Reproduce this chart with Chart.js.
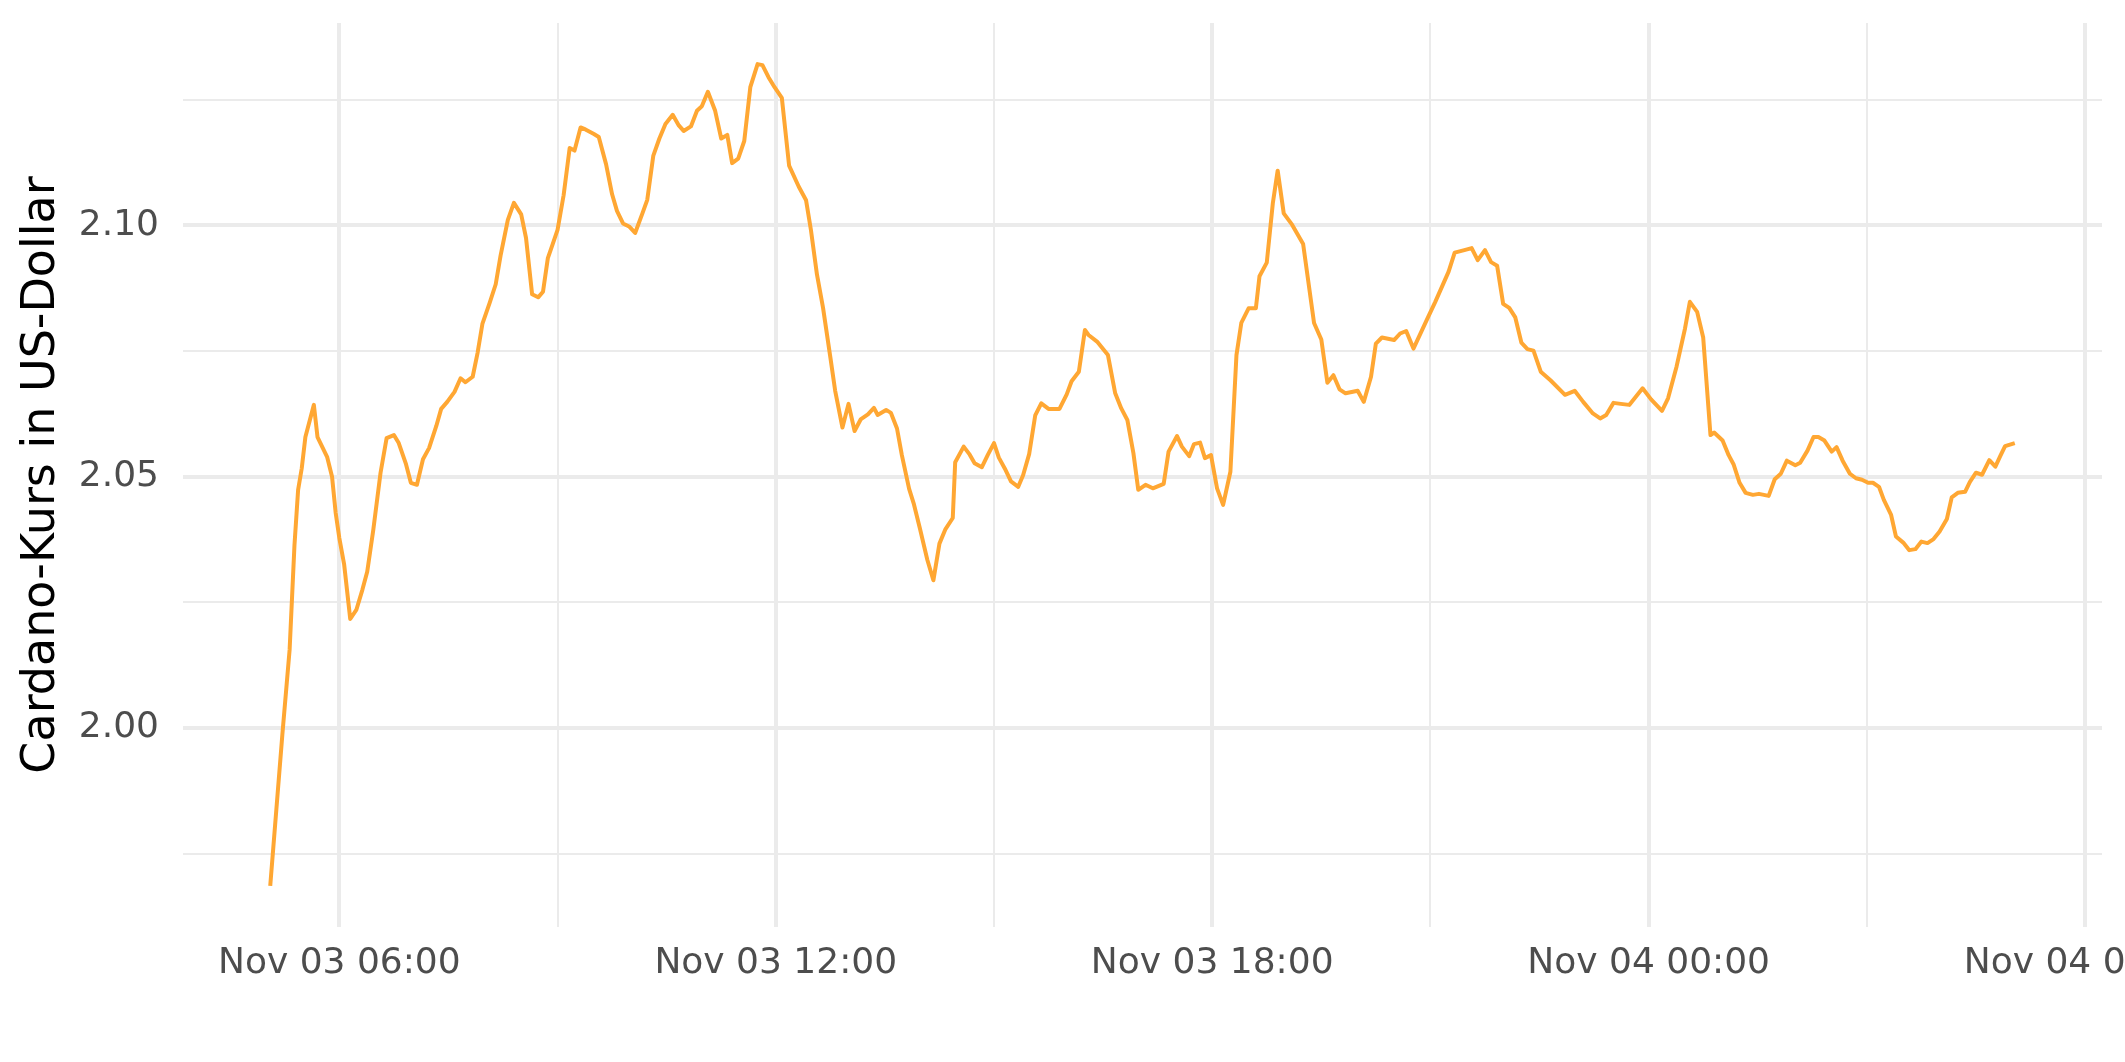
<!DOCTYPE html>
<html>
<head>
<meta charset="utf-8">
<title>Cardano-Kurs</title>
<script src="https://cdn.jsdelivr.net/npm/chart.js@4.4.1/dist/chart.umd.min.js"></script>
<style>
    html, body { margin: 0; padding: 0; background: #ffffff; }
    #wrap { width: 2125px; height: 1062px; }
</style>
</head>
<body>
<div id="wrap"><canvas id="priceChart" width="2125" height="1062"></canvas></div>
<script>
// ============================================================
// Data
// ============================================================

// minutes after Nov 03 00:00
const MINUTES = [
    303, 313, 319, 323, 326, 329, 332, 339, 342, 346,
    350, 354, 357, 360, 364, 369, 374, 379, 383, 388,
    394, 399, 405, 409, 415, 419, 424, 429, 434, 440,
    444, 449, 455, 460, 464, 470, 474, 478, 484, 489,
    493, 499, 504, 510, 514, 519, 524, 528, 532, 536,
    540, 545, 550, 554, 559, 563, 570, 574, 580, 585,
    589, 594, 599, 604, 610, 614, 619, 624, 629, 635,
    640, 644, 650, 655, 659, 664, 670, 675, 680, 684,
    689, 694, 699, 705, 709, 714, 719, 725, 731, 739,
    745, 749, 754, 759, 765, 769, 775, 780, 785, 790,
    796, 801, 804, 811, 815, 820, 824, 830, 834, 839,
    845, 850, 855, 860, 866, 868, 875, 880, 884, 890,
    895, 900, 904, 909, 914, 920, 924, 929, 934, 939,
    945, 954, 960, 964, 970, 975, 978, 985, 994, 1000,
    1005, 1010, 1015, 1019, 1025, 1031, 1040, 1044, 1051, 1055,
    1061, 1065, 1070, 1074, 1079, 1084, 1089, 1095, 1100, 1104,
    1110, 1116, 1119, 1125, 1130, 1134, 1139, 1146, 1155, 1164,
    1170, 1175, 1180, 1185, 1190, 1200, 1205, 1211, 1215, 1220,
    1230, 1235, 1240, 1246, 1257, 1264, 1275, 1280, 1288, 1294,
    1299, 1305, 1310, 1315, 1320, 1325, 1330, 1335, 1340, 1345,
    1351, 1359, 1371, 1379, 1386, 1394, 1400, 1405, 1411, 1417,
    1424, 1435, 1442, 1451, 1456, 1463, 1470, 1474, 1480, 1485,
    1491, 1494, 1501, 1506, 1510, 1515, 1520, 1526, 1531, 1539,
    1544, 1549, 1554, 1561, 1565, 1571, 1576, 1580, 1585, 1591,
    1595, 1600, 1606, 1611, 1616, 1621, 1625, 1630, 1634, 1640,
    1644, 1650, 1655, 1660, 1665, 1670, 1675, 1680, 1686, 1690,
    1695, 1701, 1705, 1710, 1715, 1721, 1726, 1730, 1734, 1742
];

// price in US-Dollar
const PRICES = [
    1.9686, 1.9987, 2.0156, 2.0364, 2.0474, 2.0517, 2.0579, 2.0643, 2.0579, 2.0559,
    2.0539, 2.0500, 2.0428, 2.0378, 2.0325, 2.0217, 2.0235, 2.0275, 2.0311, 2.0394,
    2.0508, 2.0577, 2.0583, 2.0567, 2.0525, 2.0488, 2.0484, 2.0535, 2.0557, 2.0601,
    2.0635, 2.0649, 2.0669, 2.0696, 2.0688, 2.0699, 2.0746, 2.0804, 2.0846, 2.0883,
    2.0940, 2.1011, 2.1045, 2.1022, 2.0975, 2.0863, 2.0857, 2.0868, 2.0935, 2.0963,
    2.0991, 2.1060, 2.1154, 2.1149, 2.1195, 2.1191, 2.1182, 2.1176, 2.1122, 2.1062,
    2.1029, 2.1004, 2.0998, 2.0985, 2.1024, 2.1051, 2.1139, 2.1173, 2.1202, 2.1220,
    2.1199, 2.1188, 2.1197, 2.1228, 2.1237, 2.1266, 2.1228, 2.1173, 2.1180, 2.1124,
    2.1133, 2.1168, 2.1275, 2.1321, 2.1319, 2.1295, 2.1275, 2.1254, 2.1119, 2.1077,
    2.1050, 2.0991, 2.0902, 2.0836, 2.0738, 2.0671, 2.0598, 2.0645, 2.0591, 2.0614,
    2.0624, 2.0637, 2.0623, 2.0633, 2.0627, 2.0596, 2.0543, 2.0476, 2.0445, 2.0396,
    2.0335, 2.0294, 2.0367, 2.0396, 2.0418, 2.0529, 2.0560, 2.0544, 2.0527, 2.0519,
    2.0544, 2.0567, 2.0538, 2.0516, 2.0491, 2.0480, 2.0503, 2.0545, 2.0622, 2.0646,
    2.0635, 2.0635, 2.0664, 2.0690, 2.0709, 2.0792, 2.0782, 2.0769, 2.0742, 2.0666,
    2.0636, 2.0613, 2.0547, 2.0474, 2.0484, 2.0477, 2.0486, 2.0550, 2.0581, 2.0560,
    2.0541, 2.0565, 2.0568, 2.0537, 2.0543, 2.0477, 2.0444, 2.0510, 2.0742, 2.0806,
    2.0835, 2.0835, 2.0899, 2.0926, 2.1044, 2.1109, 2.1024, 2.1001, 2.0963, 2.0806,
    2.0773, 2.0687, 2.0702, 2.0674, 2.0666, 2.0671, 2.0649, 2.0699, 2.0765, 2.0777,
    2.0772, 2.0785, 2.0790, 2.0755, 2.0812, 2.0848, 2.0908, 2.0946, 2.0951, 2.0955,
    2.0931, 2.0951, 2.0927, 2.0920, 2.0844, 2.0836, 2.0817, 2.0767, 2.0754, 2.0751,
    2.0709, 2.0692, 2.0663, 2.0671, 2.0649, 2.0626, 2.0616, 2.0623, 2.0647, 2.0645,
    2.0643, 2.0676, 2.0654, 2.0631, 2.0656, 2.0719, 2.0795, 2.0848, 2.0828, 2.0777,
    2.0583, 2.0588, 2.0572, 2.0543, 2.0525, 2.0488, 2.0468, 2.0464, 2.0466, 2.0462,
    2.0495, 2.0506, 2.0532, 2.0523, 2.0528, 2.0552, 2.0579, 2.0579, 2.0572, 2.0550,
    2.0559, 2.0532, 2.0506, 2.0497, 2.0494, 2.0488, 2.0488, 2.0480, 2.0454, 2.0424,
    2.0381, 2.0369, 2.0354, 2.0356, 2.0371, 2.0368, 2.0376, 2.0391, 2.0416, 2.0459,
    2.0468, 2.0470, 2.0490, 2.0508, 2.0504, 2.0533, 2.0520, 2.0541, 2.0561, 2.0567
];

// x ticks every 3 hours, labels only on the 6-hour ones
const X_TICKS = [360, 540, 720, 900, 1080, 1260, 1440, 1620, 1800];
const X_TICK_LABELS = ['Nov 03 06:00', '', 'Nov 03 12:00', '', 'Nov 03 18:00', '',
                       'Nov 04 00:00', '', 'Nov 04 06:00'];

const Y_TICKS = [1.975, 2.00, 2.025, 2.05, 2.075, 2.10, 2.125];
const Y_TICK_LABELS = ['', '2.00', '', '2.05', '', '2.10', ''];

const Y_TITLE = 'Cardano-Kurs in US-Dollar';

// ============================================================
// Chart
// ============================================================

const GRID_COLOR = '#EBEBEB';
const LINE_COLOR = '#FFA733';

// ggplot-style 5% expansion of the data range
function expandRange(values) {
    const lo = Math.min(...values);
    const hi = Math.max(...values);
    const pad = (hi - lo) * 0.05;
    return { min: lo - pad, max: hi + pad };
}

const xRange = expandRange(MINUTES);
const yRange = expandRange(PRICES);

Chart.defaults.font.family = "'DejaVu Sans', sans-serif";

const points = MINUTES.map((m, i) => ({ x: m, y: PRICES[i] }));

new Chart(document.getElementById('priceChart'), {
    type: 'line',
    data: {
        datasets: [{
            data: points,
            borderColor: LINE_COLOR,
            borderWidth: 4,
            borderJoinStyle: 'round',
            pointRadius: 0,
            tension: 0,
            fill: false
        }]
    },
    options: {
        responsive: false,
        animation: false,
        devicePixelRatio: 1,
        layout: { padding: { top: 23, right: 23, left: 0, bottom: 0 } },
        plugins: {
            legend: { display: false },
            tooltip: { enabled: false }
        },
        scales: {
            x: {
                type: 'linear',
                min: xRange.min,
                max: xRange.max,
                afterBuildTicks: scale => {
                    scale.ticks = X_TICKS.map(v => ({ value: v }));
                },
                afterFit: scale => {
                    scale.height = 135;
                    scale.paddingLeft = 0;
                    scale.paddingRight = 0;
                },
                border: { display: false },
                grid: {
                    drawTicks: false,
                    color: GRID_COLOR,
                    lineWidth: ctx => X_TICK_LABELS[ctx.index] ? 4 : 2
                },
                ticks: {
                    autoSkip: false,
                    maxRotation: 0,
                    padding: 15,
                    color: '#4D4D4D',
                    font: { size: 36 },
                    callback: (value, index) => X_TICK_LABELS[index]
                }
            },
            y: {
                type: 'linear',
                min: yRange.min,
                max: yRange.max,
                afterBuildTicks: scale => {
                    scale.ticks = Y_TICKS.map(v => ({ value: v }));
                },
                afterFit: scale => {
                    scale.width = 183;
                    scale.paddingTop = 0;
                    scale.paddingBottom = 0;
                },
                border: { display: false },
                grid: {
                    drawTicks: false,
                    color: GRID_COLOR,
                    lineWidth: ctx => Y_TICK_LABELS[ctx.index] ? 4 : 2
                },
                ticks: {
                    padding: 24,
                    color: '#4D4D4D',
                    font: { size: 36 },
                    callback: (value, index) => Y_TICK_LABELS[index]
                },
                title: {
                    display: true,
                    text: Y_TITLE,
                    color: '#000000',
                    font: { size: 46 },
                    padding: { top: 14, bottom: 0 }
                }
            }
        }
    }
});
</script>
</body>
</html>
